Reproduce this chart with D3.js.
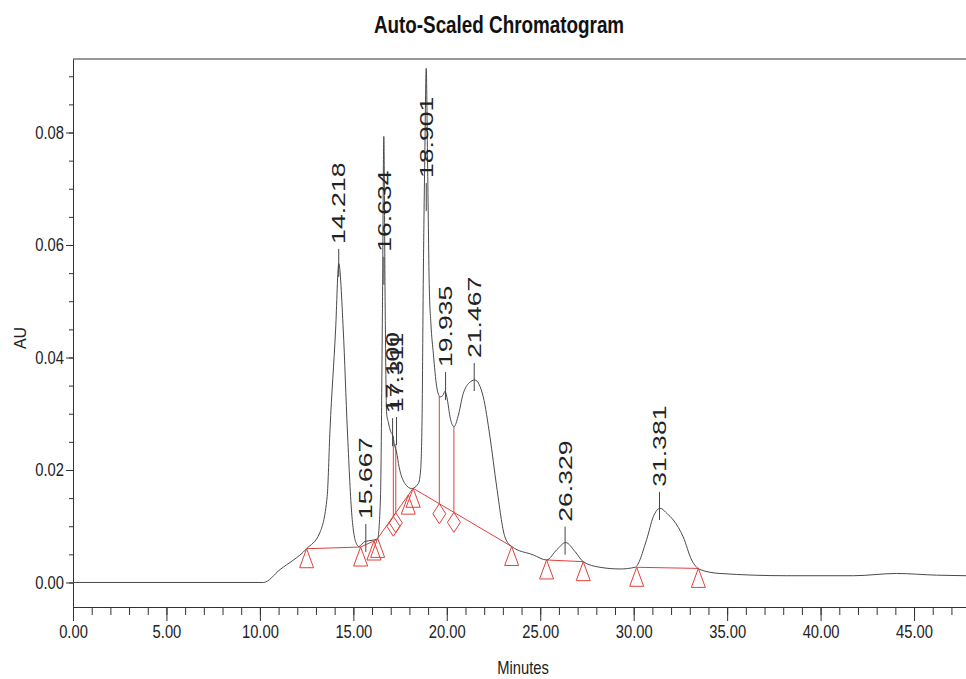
<!DOCTYPE html>
<html lang="en">
  <meta charset="utf-8" />
  <head>
    <title>Auto-Scaled Chromatogram</title>
    <script src="https://cdn.jsdelivr.net/npm/d3@7"></script>
    <style>
      body { margin: 0; background: #fff; }
      .narrow { font-family: "Liberation Sans Narrow", "Arial Narrow", "Liberation Sans", Arial, sans-serif; }
      .tick text { font-size: 18px; fill: #222; }
      .peaklabel { font-family: "Liberation Sans", Arial, sans-serif; font-size: 19px; fill: #222; }
    </style>
  </head>
  <body>
  <script>
    // DATA
    // signal trace: minutes / AU
    var traceTime = [0, 10.18, 11.08, 12.5, 13.2, 13.6, 13.75, 14.05, 14.22, 14.46, 14.68, 14.91,
      15.15, 15.3, 15.62, 16.0, 16.3, 16.45, 16.56, 16.63, 16.7, 16.78, 16.87, 17.0, 17.1,
      17.2, 17.31, 17.45, 17.76, 18.12, 18.48, 18.6, 18.68, 18.74, 18.82, 18.9, 18.97, 19.06,
      19.15, 19.28, 19.46, 19.64, 19.8, 19.9, 20.0, 20.2, 20.39, 20.6, 20.88, 21.2, 21.5,
      21.95, 22.31, 22.67, 23.11, 23.47, 24.63, 25.34, 25.88, 26.36, 26.86, 27.3, 28.2,
      29.27, 30.07, 30.69, 31.05, 31.41, 31.8, 32.12, 32.65, 33.1, 33.55, 34.62, 38.19,
      41.75, 44.07, 46.2, 47.8];
    var traceAU = [0, 0, 0.0023, 0.0060, 0.0088, 0.0153, 0.0271, 0.0449, 0.0567, 0.0449, 0.0271, 0.0124,
      0.0070, 0.0064, 0.0073, 0.0075, 0.0078, 0.0150, 0.0500, 0.0793, 0.0500, 0.0301, 0.0285, 0.0268, 0.0262,
      0.0245, 0.0232, 0.0205, 0.0176, 0.0167, 0.0176, 0.0200, 0.0300, 0.0530, 0.0750, 0.0914, 0.0750, 0.0530,
      0.0460, 0.0407, 0.0348, 0.0330, 0.0333, 0.0340, 0.0330, 0.0290, 0.0277, 0.0295, 0.0336, 0.0355, 0.0360,
      0.0330, 0.0259, 0.0170, 0.0081, 0.0064, 0.0049, 0.0040, 0.0058, 0.0071, 0.0055, 0.0037, 0.0027,
      0.0024, 0.0027, 0.0076, 0.0117, 0.0132, 0.0122, 0.0111, 0.0081, 0.0040, 0.0023, 0.0016, 0.0012,
      0.0012, 0.0016, 0.0013, 0.0012];

    // peaks: retention time, label text, where the label starts (AU)
    var peakTimes  = [14.218, 15.667, 16.634, 17.100, 17.311, 18.901, 19.935, 21.467, 26.329, 31.381];
    var peakNames  = ["14.218", "15.667", "16.634", "17.100", "17.311", "18.901", "19.935", "21.467", "26.329", "31.381"];
    var peakLabelAU = [0.0602, 0.0113, 0.0588, 0.0301, 0.0303, 0.0719, 0.0383, 0.0399, 0.0108, 0.0170];

    // integration baselines (red)
    var baselines = [
      { t: [12.5, 15.39, 16.25, 18.2, 23.47], v: [0.0060, 0.0063, 0.0076, 0.01675, 0.0064] },
      { t: [25.34, 27.3], v: [0.0040, 0.0037] },
      { t: [30.16, 33.46], v: [0.0027, 0.0025] }
    ];
    var triangleTimes = [12.5, 15.39, 16.1, 16.3, 17.94, 18.2, 23.47, 25.34, 27.3, 30.16, 33.46];
    var dropTimes = [17.14, 17.27, 19.6, 20.38];
    var dropTopAU = [0.0260, 0.0246, 0.0331, 0.0277];

    // axis ticks
    var xMajor = [0, 5, 10, 15, 20, 25, 30, 35, 40, 45];
    var xMinor = d3.range(0, 48, 1);
    var yMajor = [0, 0.02, 0.04, 0.06, 0.08];
    var yMinor = d3.range(0, 0.0905, 0.005);

    // CONFIG
    var width = 966, height = 679;
    var plotLeft = 73, plotRight = 966, plotTop = 59, plotBottom = 607;
    var red = "#e0403a";
    var squeeze = 0.82; // no narrow font installed, so squeeze the text

    var x = d3.scaleLinear().domain([0, 47.78]).range([plotLeft, plotRight]);
    var y = d3.scaleLinear().domain([-0.00436, 0.09307]).range([plotBottom, plotTop]);

    var svg = d3.select("body").append("svg")
        .attr("width", width)
        .attr("height", height);

    // title
    svg.append("text")
      .attr("class", "narrow")
      .attr("transform", `translate(499,33) scale(${squeeze},1)`)
      .attr("text-anchor", "middle")
      .style("font-size", "23px").style("font-weight", "bold").style("fill", "#111")
      .text("Auto-Scaled Chromatogram");

    // frame: top line
    svg.append("line")
      .attr("x1", plotLeft).attr("x2", plotRight).attr("y1", plotTop).attr("y2", plotTop)
      .attr("stroke", "#333");

    // axes
    svg.append("g").attr("class", "narrow")
      .attr("transform", `translate(0,${plotBottom})`)
      .call(d3.axisBottom(x).tickValues(xMajor).tickSize(14).tickSizeOuter(0)
        .tickPadding(4).tickFormat(d3.format(".2f")))
      .selectAll("text")
        .attr("transform", `scale(${squeeze},1)`);
    svg.append("g")
      .attr("transform", `translate(0,${plotBottom})`)
      .call(d3.axisBottom(x).tickValues(xMinor).tickSize(8).tickSizeOuter(0).tickFormat(""))
      .select(".domain").remove();

    svg.append("g").attr("class", "narrow")
      .attr("transform", `translate(${plotLeft},0)`)
      .call(d3.axisLeft(y).tickValues(yMajor).tickSize(7).tickSizeOuter(0)
        .tickPadding(2).tickFormat(d3.format(".2f")))
      .selectAll("text")
        .attr("x", -9 / squeeze)
        .attr("transform", `scale(${squeeze},1)`);
    svg.append("g")
      .attr("transform", `translate(${plotLeft},0)`)
      .call(d3.axisLeft(y).tickValues(yMinor).tickSize(4).tickSizeOuter(0).tickFormat(""))
      .select(".domain").remove();

    svg.selectAll(".domain, .tick line").attr("stroke", "#333");

    // axis titles
    svg.append("text")
      .attr("class", "narrow")
      .attr("transform", `translate(523,674) scale(${squeeze},1)`)
      .attr("text-anchor", "middle")
      .style("font-size", "18px").style("fill", "#222")
      .text("Minutes");

    svg.append("text")
      .attr("transform", "translate(26,338) rotate(-90)")
      .attr("text-anchor", "middle")
      .style("font-family", "'Liberation Sans', Arial, sans-serif")
      .style("font-size", "16px").style("fill", "#222")
      .text("AU");

    // baseline lookup, for the markers
    function baseAt(t) {
      for (var i = 0; i < baselines.length; i++) {
        var b = baselines[i];
        for (var j = 0; j < b.t.length - 1; j++) {
          if (t >= b.t[j] && t <= b.t[j+1]) {
            var f = (t - b.t[j]) / (b.t[j+1] - b.t[j]);
            return b.v[j] + f * (b.v[j+1] - b.v[j]);
          }
        }
      }
      return 0;
    }

    // red integration baselines
    var baseLine = d3.line().x((d)=>x(d[0])).y((d)=>y(d[1]));
    svg.selectAll(".base")
      .data(baselines)
      .enter()
      .append("path")
        .attr("class", "base")
        .attr("fill", "none")
        .attr("stroke", red)
        .attr("d", (b)=>baseLine(b.t.map((t, i)=>[t, b.v[i]])));

    // drop lines
    svg.selectAll(".drop")
      .data(dropTimes)
      .enter()
      .append("line")
        .attr("class", "drop")
        .attr("stroke", red)
        .attr("x1", (t)=>x(t)).attr("x2", (t)=>x(t))
        .attr("y1", (t)=>y(baseAt(t)))
        .attr("y2", (t, i)=>y(dropTopAU[i]));

    // trace
    var trace = traceTime.map((t, i)=>[t, traceAU[i]]);
    svg.append("path")
      .datum(trace)
      .attr("fill", "none")
      .attr("stroke", "#4a4a4a")
      .attr("stroke-width", 1)
      .attr("d", d3.line().x((d)=>x(d[0])).y((d)=>y(d[1])).curve(d3.curveMonotoneX));

    // triangle markers hang below the baseline point
    svg.selectAll(".tri")
      .data(triangleTimes)
      .enter()
      .append("path")
        .attr("class", "tri")
        .attr("fill", "none")
        .attr("stroke", red)
        .attr("transform", (t)=>`translate(${x(t)},${y(baseAt(t))})`)
        .attr("d", "M0,0L-7,19L7,19Z");

    // diamond markers at the drop lines
    svg.selectAll(".dia")
      .data(dropTimes)
      .enter()
      .append("path")
        .attr("class", "dia")
        .attr("fill", "none")
        .attr("stroke", red)
        .attr("transform", (t)=>`translate(${x(t)},${y(baseAt(t))})`)
        .attr("d", "M0,0L6.5,10L0,20L-6.5,10Z");

    // peak ticks and labels
    var peaks = svg.selectAll(".peak")
      .data(peakTimes)
      .enter()
      .append("g")
        .attr("class", "peak");

    peaks.append("line")
      .attr("stroke", "#444")
      .attr("x1", (t)=>x(t)).attr("x2", (t)=>x(t))
      .attr("y1", (t, i)=>y(peakLabelAU[i]) + 5)
      .attr("y2", (t, i)=>y(peakLabelAU[i]) + 33);

    peaks.append("text")
      .attr("class", "peaklabel")
      .attr("transform", (t, i)=>`translate(${x(t)},${y(peakLabelAU[i])}) rotate(-90) scale(1.4,1)`)
      .attr("dy", "0.35em")
      .text((t, i)=>peakNames[i]);

  </script>
  </body>
</html>
